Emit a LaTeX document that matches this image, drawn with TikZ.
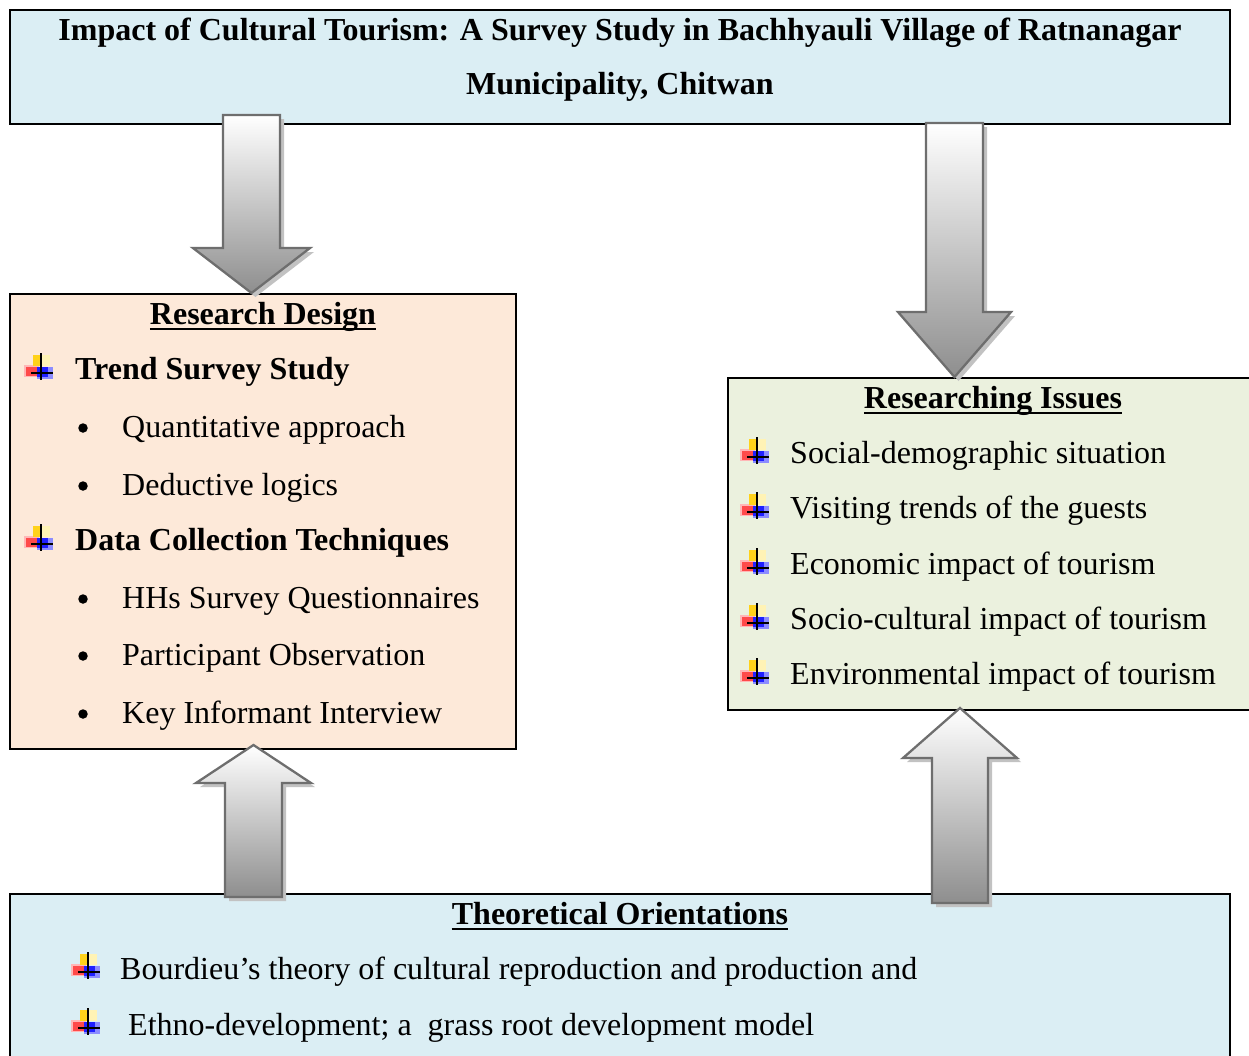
\documentclass[tikz,border=0pt]{standalone}
\usepackage{fontspec}
\setmainfont{Liberation Serif}

\definecolor{paleblue}{HTML}{DBEEF4}
\definecolor{palepeach}{HTML}{FDE9D9}
\definecolor{palegreen}{HTML}{EBF1DE}
\definecolor{arrowedge}{HTML}{6E6E6E}
\definecolor{arrowshadow}{HTML}{C2C2C2}
\definecolor{arrowdark}{HTML}{8E8E8E}
\definecolor{iconred}{HTML}{FF4A4A}
\definecolor{icongold}{HTML}{FFD21A}
\definecolor{iconpale}{HTML}{FFF3B5}
\definecolor{iconblue}{HTML}{2020FF}
\definecolor{iconlblue}{HTML}{8C8CFF}

% block arrow: {centre x}{tail y}{tip y}{half shaft}{half head}{head length}
\newcommand{\blockarrowpath}[6]{%
  ({#1-#4},#2) -- ({#1+#4},#2) -- ({#1+#4},{#3-sign(#3-#2)*#6}) --
  ({#1+#5},{#3-sign(#3-#2)*#6}) -- (#1,#3) -- ({#1-#5},{#3-sign(#3-#2)*#6}) --
  ({#1-#4},{#3-sign(#3-#2)*#6}) -- cycle}
\newcommand{\blockarrow}[6]{%
  \fill[arrowshadow, xshift=4pt, yshift=-4pt] \blockarrowpath{#1}{#2}{#3}{#4}{#5}{#6};
  \draw[blockarrowstyle] \blockarrowpath{#1}{#2}{#3}{#4}{#5}{#6};}

\tikzset{
  x=1pt, y=-1pt,
  txt/.style={inner sep=0pt, font=\fontsize{32}{38}\selectfont},
  head/.style={txt, font=\fontsize{32}{38}\selectfont\bfseries, anchor=base},
  frame/.style={draw=black, line width=2pt},
  dot/.style={circle, fill=black, inner sep=0pt, minimum size=9.5pt},
  blockarrowstyle/.style={draw=arrowedge, line width=2.3pt, line join=miter,
    top color=white, bottom color=arrowdark},
  tickicon/.pic={
    \fill[iconred!40] (-17,-2) rectangle (-2,10);
    \fill[iconred] (-15,0) rectangle (-4,9);
    \fill[iconpale] (-8,-12) rectangle (9,-1);
    \fill[icongold] (-8,-12) rectangle (1,-1);
    \fill[iconlblue] (-4,0) rectangle (12,12);
    \fill[iconblue] (-4,0) rectangle (7,10);
    \draw[line width=1.8pt] (0,-14) -- (0,13);
    \draw[line width=1.8pt] (-10,6) -- (12,6);
  }
}

\begin{document}
\begin{tikzpicture}
\useasboundingbox (0,0) rectangle (1249,1055);
\fill[white] (0,0) rectangle (1249,1055);

% boxes
\draw[frame, fill=paleblue] (10,10) rectangle (1230,124);
\draw[frame, fill=palepeach] (10,294) rectangle (516,749);
\draw[frame, fill=palegreen] (728,378) rectangle (1262,710);
\draw[frame, fill=paleblue] (10,894) rectangle (1230,1070);

% title
\node[txt, font=\fontsize{32}{38}\selectfont\bfseries, anchor=base] (title1) at (620,40)
  {Impact of Cultural Tourism: A Survey Study in Bachhyauli Village of Ratnanagar};
\node[txt, font=\fontsize{32}{38}\selectfont\bfseries, anchor=base] (title2) at (620,94)
  {Municipality, Chitwan};

% research design
\node[head] (rdhead) at (263,324) {Research Design};
\draw[line width=2.5pt] ([yshift=-5pt]rdhead.base west) -- ([yshift=-5pt]rdhead.base east);
\pic at (41,367) {tickicon};
\node[txt, anchor=base west, font=\fontsize{32}{38}\selectfont\bfseries] (rd1) at (75,379) {Trend Survey Study};
\node[dot] (rb1) at (83,428) {};
\node[txt, anchor=base west] (rd2) at (122,437) {Quantitative approach};
\node[dot] (rb2) at (83,486) {};
\node[txt, anchor=base west] (rd3) at (122,495) {Deductive logics};
\pic at (41,538) {tickicon};
\node[txt, anchor=base west, font=\fontsize{32}{38}\selectfont\bfseries] (rd4) at (75,550) {Data Collection Techniques};
\node[dot] (rb3) at (83,599) {};
\node[txt, anchor=base west] (rd5) at (122,608) {HHs Survey Questionnaires};
\node[dot] (rb4) at (83,656) {};
\node[txt, anchor=base west] (rd6) at (122,665) {Participant Observation};
\node[dot] (rb5) at (83,714) {};
\node[txt, anchor=base west] (rd7) at (122,723) {Key Informant Interview};

% researching issues
\node[head] (rihead) at (993,408) {Researching Issues};
\draw[line width=2.5pt] ([yshift=-5pt]rihead.base west) -- ([yshift=-5pt]rihead.base east);
\foreach \yy/\tt [count=\i] in {463/Social-demographic situation,
                                518/Visiting trends of the guests,
                                574/Economic impact of tourism,
                                629/Socio-cultural impact of tourism,
                                684/Environmental impact of tourism}{
  \pic at (757,\yy-12) {tickicon};
  \node[txt, anchor=base west] (ri\i) at (790,\yy) {\tt};
}

% theoretical orientations
\node[head] (tohead) at (620,924) {Theoretical Orientations};
\draw[line width=2.5pt] ([yshift=-5pt]tohead.base west) -- ([yshift=-5pt]tohead.base east);
\pic at (88,966) {tickicon};
\node[txt, anchor=base west] (to1) at (120,979)
  {Bourdieu’s theory of cultural reproduction and production and};
\pic at (88,1022) {tickicon};
\node[txt, anchor=base west] (to2) at (128,1035)
  {Ethno-development; a\ \ grass root development model};

% block arrows between the boxes
\blockarrow{251.5}{115}{293}{28.5}{58.5}{45}
\blockarrow{954.5}{123}{377}{28.5}{56.5}{65}
\blockarrow{253.5}{897}{745}{28.5}{57.5}{38}
\blockarrow{960}{903}{708}{28}{57}{50}
\end{tikzpicture}
\end{document}
